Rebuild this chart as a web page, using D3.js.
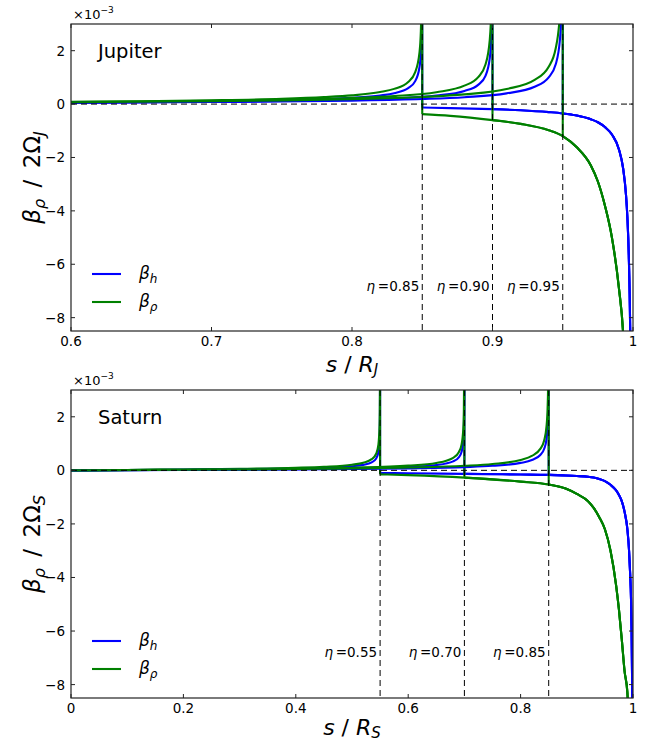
<!DOCTYPE html>
<html>
<head>
<meta charset="utf-8">
<script src="https://cdn.jsdelivr.net/npm/d3@7"></script>
<style>
  html, body { margin: 0; padding: 0; background: #fff; }
  svg { display: block; font-family: "DejaVu Sans", sans-serif; }
</style>
</head>
<body>
<svg id="chart" width="648" height="744"></svg>
<script>
// ---- Jupiter: tangent-cylinder radii and beta profiles (units of 1e-3 x 2Ω) ----
const jupiterEta = [0.85, 0.90, 0.95];
const jupiterEtaLabels = ["0.85", "0.90", "0.95"];
const jupiterXTicks = [0.6, 0.7, 0.8, 0.9, 1.0];
const jupiterXTickLabels = ["0.6", "0.7", "0.8", "0.9", "1"];

// inside the tangent cylinder (s < η), one row per η
const jupiterInS = [
  [0.6, 0.65, 0.7, 0.75, 0.78, 0.8, 0.82, 0.83, 0.84, 0.845, 0.848, 0.849, 0.8497, 0.85],
  [0.6, 0.65, 0.7, 0.75, 0.8, 0.83, 0.86, 0.88, 0.89, 0.895, 0.898, 0.899, 0.8997, 0.90],
  [0.6, 0.65, 0.7, 0.75, 0.8, 0.85, 0.88, 0.91, 0.93, 0.94, 0.945, 0.948, 0.949, 0.9497, 0.95]
];
const jupiterInH = [
  [0.062, 0.078, 0.102, 0.142, 0.185, 0.232, 0.32, 0.406, 0.596, 0.86, 1.37, 1.95, 3.57, 9],
  [0.056, 0.069, 0.087, 0.114, 0.162, 0.214, 0.318, 0.491, 0.73, 1.06, 1.7, 2.42, 4.4, 9],
  [0.051, 0.062, 0.076, 0.097, 0.130, 0.190, 0.259, 0.402, 0.65, 1.0, 1.49, 2.42, 3.45, 6.0, 9]
];
const jupiterInP = [
  [0.085, 0.107, 0.142, 0.198, 0.26, 0.325, 0.45, 0.57, 0.83, 1.2, 1.92, 2.73, 5.0, 9],
  [0.078, 0.096, 0.122, 0.16, 0.227, 0.30, 0.445, 0.69, 1.02, 1.48, 2.38, 3.39, 6.2, 9],
  [0.071, 0.087, 0.106, 0.136, 0.182, 0.266, 0.363, 0.563, 0.91, 1.4, 2.09, 3.39, 4.83, 8.4, 9]
];
// outside the tangent cylinder (shared by every η)
const jupiterOutS = [0.85, 0.87, 0.90, 0.92, 0.94, 0.95, 0.96, 0.97, 0.975, 0.98, 0.985, 0.99, 0.993, 0.995, 0.996, 0.997, 0.998, 0.9985];
const jupiterOutH = [-0.13, -0.15, -0.19, -0.23, -0.30, -0.35, -0.43, -0.57, -0.68, -0.86, -1.14, -1.70, -2.42, -3.39, -4.24, -5.66, -8.49, -11.3];
const jupiterOutP = [-0.375, -0.44, -0.60, -0.74, -0.98, -1.20, -1.62, -2.30, -2.90, -3.80, -5.00, -6.90, -8.60, -11.0, -12.5, -14.5, -18.0, -20.0];

// ---- Saturn ----
const saturnEta = [0.55, 0.70, 0.85];
const saturnEtaLabels = ["0.55", "0.70", "0.85"];
const saturnXTicks = [0, 0.2, 0.4, 0.6, 0.8, 1.0];
const saturnXTickLabels = ["0", "0.2", "0.4", "0.6", "0.8", "1"];

const saturnInS = [
  [0, 0.1, 0.2, 0.3, 0.4, 0.45, 0.5, 0.52, 0.535, 0.543, 0.547, 0.549, 0.5497, 0.5499, 0.55],
  [0, 0.1, 0.2, 0.3, 0.4, 0.5, 0.6, 0.65, 0.68, 0.69, 0.695, 0.698, 0.699, 0.6997, 0.6999, 0.70],
  [0, 0.2, 0.4, 0.6, 0.7, 0.75, 0.8, 0.82, 0.835, 0.842, 0.846, 0.848, 0.849, 0.8497, 0.8499, 0.85]
];
const saturnInH = [
  [0, 0.011, 0.024, 0.041, 0.069, 0.096, 0.151, 0.204, 0.298, 0.443, 0.683, 1.19, 2.17, 3.81, 9],
  [0, 0.009, 0.018, 0.030, 0.046, 0.071, 0.125, 0.197, 0.335, 0.485, 0.694, 1.10, 1.57, 2.86, 4.96, 9],
  [0, 0.015, 0.035, 0.075, 0.122, 0.170, 0.278, 0.384, 0.573, 0.805, 1.156, 1.65, 2.34, 4.28, 7.4, 9]
];
const saturnInP = [
  [0, 0.015, 0.034, 0.057, 0.097, 0.134, 0.211, 0.286, 0.417, 0.62, 0.956, 1.67, 3.04, 5.33, 9],
  [0, 0.013, 0.025, 0.042, 0.064, 0.099, 0.175, 0.276, 0.469, 0.679, 0.972, 1.54, 2.2, 4.0, 6.9, 9],
  [0, 0.021, 0.049, 0.105, 0.171, 0.238, 0.389, 0.538, 0.802, 1.127, 1.62, 2.31, 3.28, 6.0, 9, 9]
];
const saturnOutS = [0.55, 0.60, 0.70, 0.80, 0.85, 0.88, 0.90, 0.92, 0.93, 0.94, 0.95, 0.96, 0.97, 0.975, 0.98, 0.985, 0.99, 0.993, 0.995, 0.9965, 0.9975, 0.9985, 0.999];
const saturnOutH = [-0.10, -0.11, -0.13, -0.155, -0.17, -0.19, -0.21, -0.24, -0.27, -0.32, -0.40, -0.54, -0.75, -0.92, -1.15, -1.55, -2.20, -3.00, -3.90, -4.80, -6.00, -8.00, -9.50];
const saturnOutP = [-0.15, -0.18, -0.27, -0.42, -0.53, -0.68, -0.88, -1.15, -1.40, -1.75, -2.20, -3.00, -4.30, -5.20, -6.30, -7.50, -8.30, -9.60, -10.5, -11.2, -11.8, -12.5, -13.0];

const yTicks = [-8, -6, -4, -2, 0, 2];

const colH = "#0000ff";
const colP = "#008000";

const svg = d3.select("#chart");

function drawPanel(cfg) {
  const left = 71, right = 633;
  const x = d3.scaleLinear().domain(cfg.xDomain).range([left, right]);
  const y = d3.scaleLinear().domain([-8.5, 3]).range([cfg.bottom, cfg.top]);
  const g = svg.append("g");

  const clipId = "clip-" + cfg.name;
  svg.append("defs").append("clipPath").attr("id", clipId)
    .append("rect").attr("x", left).attr("y", cfg.top)
    .attr("width", right - left).attr("height", cfg.bottom - cfg.top);

  const plot = g.append("g").attr("clip-path", `url(#${clipId})`);
  const smooth = d3.line().x(d => x(d[0])).y(d => y(d[1])).curve(d3.curveMonotoneX);
  const straight = d3.line().x(d => x(d[0])).y(d => y(d[1]));

  cfg.eta.forEach((eta, i) => {
    [[cfg.inH[i], cfg.outH, colH], [cfg.inP[i], cfg.outP, colP]].forEach(([inVals, outVals, col]) => {
      const inside = cfg.inS[i].map((s, k) => [s, inVals[k]]);
      const outside = cfg.outS.map((s, k) => [s, outVals[k]]).filter(d => d[0] >= eta - 1e-9);
      const jump = [inside[inside.length - 1], outside[0]];
      [smooth(inside), straight(jump), smooth(outside)].forEach(dstr => {
        plot.append("path").attr("d", dstr).attr("fill", "none")
          .attr("stroke", col).attr("stroke-width", 2.1)
          .attr("stroke-linejoin", "round");
      });
    });
  });

  // zero line and tangent-cylinder markers
  g.append("line").attr("x1", left).attr("x2", right).attr("y1", y(0)).attr("y2", y(0))
    .attr("stroke", "#000").attr("stroke-width", 1).attr("stroke-dasharray", "6,4");
  cfg.eta.forEach((eta, i) => {
    g.append("line").attr("x1", x(eta)).attr("x2", x(eta)).attr("y1", cfg.top).attr("y2", cfg.bottom)
      .attr("stroke", "#000").attr("stroke-width", 1).attr("stroke-dasharray", "6,4");
    const t = g.append("text").attr("x", x(eta) - 3).attr("y", cfg.etaLabelY)
      .attr("text-anchor", "end").attr("font-size", 13.5);
    t.append("tspan").attr("font-style", "italic").text("η");
    t.append("tspan").text("\u2009=" + cfg.etaLabels[i]);
  });

  // frame
  g.append("rect").attr("x", left).attr("y", cfg.top).attr("width", right - left)
    .attr("height", cfg.bottom - cfg.top).attr("fill", "none").attr("stroke", "#222").attr("stroke-width", 1.2);

  // ticks, pointing inward on all four sides
  cfg.xTicks.forEach((v, i) => {
    g.append("line").attr("x1", x(v)).attr("x2", x(v)).attr("y1", cfg.bottom).attr("y2", cfg.bottom - 4).attr("stroke", "#222");
    g.append("line").attr("x1", x(v)).attr("x2", x(v)).attr("y1", cfg.top).attr("y2", cfg.top + 4).attr("stroke", "#222");
    g.append("text").attr("x", x(v)).attr("y", cfg.bottom + 15).attr("text-anchor", "middle")
      .attr("font-size", 13.5).text(cfg.xTickLabels[i]);
  });
  yTicks.forEach(v => {
    g.append("line").attr("x1", left).attr("x2", left + 4).attr("y1", y(v)).attr("y2", y(v)).attr("stroke", "#222");
    g.append("line").attr("x1", right).attr("x2", right - 4).attr("y1", y(v)).attr("y2", y(v)).attr("stroke", "#222");
    g.append("text").attr("x", 65).attr("y", y(v) + 5).attr("text-anchor", "end")
      .attr("font-size", 13.5).text(v < 0 ? "\u2212" + Math.abs(v) : String(v));
  });

  // offset multiplier
  const m = g.append("text").attr("x", 73).attr("y", cfg.top - 5).attr("font-size", 13);
  m.append("tspan").text("×10");
  m.append("tspan").attr("dy", -6).attr("font-size", 9).text("\u22123");

  // planet name
  g.append("text").attr("x", 98).attr("y", cfg.top + 34).attr("font-size", 19.5).text(cfg.title);

  // legend
  [["h", colH, 0], ["ρ", colP, 28]].forEach(([sub, col, dy]) => {
    const ly = cfg.legendY + dy;
    g.append("line").attr("x1", 92).attr("x2", 121).attr("y1", ly).attr("y2", ly)
      .attr("stroke", col).attr("stroke-width", 2.1);
    const t = g.append("text").attr("x", 139).attr("y", ly + 5).attr("font-size", 17).attr("font-style", "italic");
    t.append("tspan").text("β");
    t.append("tspan").attr("dy", 4).attr("font-size", 12).text(sub);
  });

  // axis titles
  const xl = g.append("text").attr("x", (left + right) / 2).attr("y", cfg.bottom + cfg.xTitleOffset)
    .attr("text-anchor", "middle").attr("font-size", 22);
  xl.append("tspan").attr("font-style", "italic").text("s");
  xl.append("tspan").text(" / ");
  xl.append("tspan").attr("font-style", "italic").text("R");
  xl.append("tspan").attr("font-style", "italic").attr("dy", 3).attr("font-size", 15).text(cfg.sub);

  const cy = (cfg.top + cfg.bottom) / 2;
  const yl = g.append("text").attr("transform", `translate(40,${cy}) rotate(-90)`)
    .attr("text-anchor", "middle").attr("font-size", 23);
  yl.append("tspan").attr("font-style", "italic").text("β");
  yl.append("tspan").attr("font-style", "italic").attr("dy", 5).attr("font-size", 16).text("ρ");
  yl.append("tspan").attr("dy", -5).text("\u2002/\u20022Ω");
  yl.append("tspan").attr("font-style", "italic").attr("dy", 5).attr("font-size", 16).text(cfg.sub);
}

drawPanel({
  name: "jupiter", title: "Jupiter", sub: "J", top: 24, bottom: 331, xDomain: [0.6, 1.0],
  xTicks: jupiterXTicks, xTickLabels: jupiterXTickLabels, xTitleOffset: 41,
  eta: jupiterEta, etaLabels: jupiterEtaLabels, etaLabelY: 291, legendY: 274,
  inS: jupiterInS, inH: jupiterInH, inP: jupiterInP,
  outS: jupiterOutS, outH: jupiterOutH, outP: jupiterOutP
});
drawPanel({
  name: "saturn", title: "Saturn", sub: "S", top: 390, bottom: 698, xDomain: [0, 1.0],
  xTicks: saturnXTicks, xTickLabels: saturnXTickLabels, xTitleOffset: 37,
  eta: saturnEta, etaLabels: saturnEtaLabels, etaLabelY: 657, legendY: 641,
  inS: saturnInS, inH: saturnInH, inP: saturnInP,
  outS: saturnOutS, outH: saturnOutH, outP: saturnOutP
});
</script>
</body>
</html>
